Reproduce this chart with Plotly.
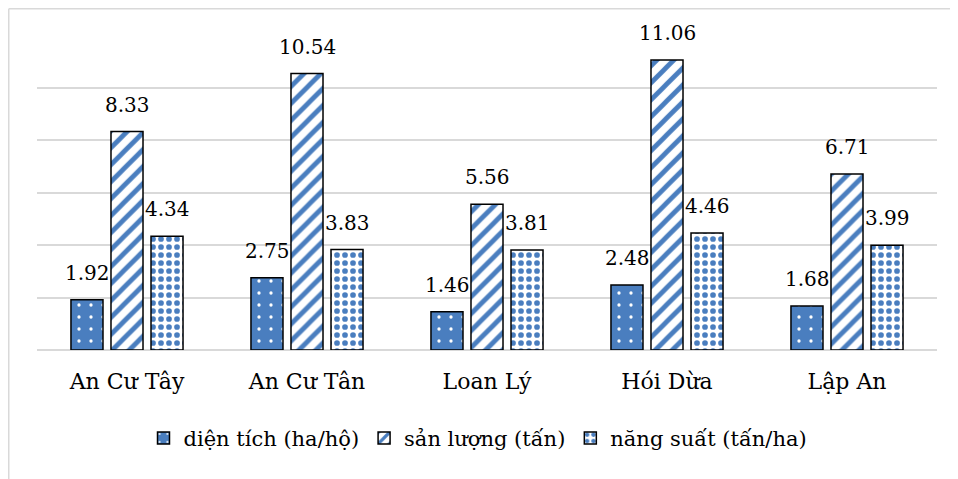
import plotly.graph_objects as go

categories = ["An Cư Tây", "An Cư Tân", "Loan Lý", "Hói Dừa", "Lập An"]
dien_tich = [1.92, 2.75, 1.46, 2.48, 1.68]
san_luong = [8.33, 10.54, 5.56, 11.06, 6.71]
nang_suat = [4.34, 3.83, 3.81, 4.46, 3.99]
series_names = ["diện tích (ha/hộ)", "sản lượng (tấn)", "năng suất (tấn/ha)"]

BLUE = "#4a7ebf"
FONT = "DejaVu Serif"

fig = go.Figure()
fig.add_trace(go.Bar(
    x=categories, y=dien_tich, name=series_names[0],
    marker=dict(color=BLUE, line=dict(color="black", width=1.5),
                pattern=dict(shape=".", fillmode="replace", bgcolor=BLUE,
                             fgcolor="white", size=12, solidity=0.06)),
))
fig.add_trace(go.Bar(
    x=categories, y=san_luong, name=series_names[1],
    marker=dict(color="white", line=dict(color="black", width=1.5),
                pattern=dict(shape="/", fillmode="replace", bgcolor="white",
                             fgcolor=BLUE, size=12, solidity=0.4)),
))
fig.add_trace(go.Bar(
    x=categories, y=nang_suat, name=series_names[2],
    marker=dict(color="white", line=dict(color="black", width=1.5),
                pattern=dict(shape=".", fillmode="replace", bgcolor="white",
                             fgcolor=BLUE, size=8, solidity=0.4)),
))

# data labels above each bar of each group
annotations = []
for si, vals in enumerate([dien_tich, san_luong, nang_suat]):
    for cat, v in zip(categories, vals):
        annotations.append(dict(
            x=cat, y=v, xref="x", yref="y", text=f"{v:.2f}",
            showarrow=False, xanchor="center", yanchor="bottom",
            xshift=(si - 1) * 40, yshift=13,
            font=dict(family=FONT, size=20, color="black"),
        ))

fig.update_layout(
    width=958, height=479,
    margin=dict(l=29, r=29, t=27, b=137),
    paper_bgcolor="white", plot_bgcolor="white",
    barmode="group", bargap=0.333, bargroupgap=0.2,
    font=dict(family=FONT, size=21, color="black"),
    xaxis=dict(showgrid=False, showline=False, ticks="",
               ticklabelstandoff=16,
               tickfont=dict(family=FONT, size=22, color="black")),
    yaxis=dict(range=[0, 12.01], dtick=2, showticklabels=False,
               showgrid=True, gridcolor="#d9d9d9", gridwidth=1.5,
               zeroline=True, zerolinecolor="#d9d9d9", zerolinewidth=1.5,
               showline=False),
    legend=dict(orientation="h", x=0.49, xanchor="center", y=-0.215,
                yanchor="top", font=dict(family=FONT, size=21, color="black"),
                itemwidth=30, traceorder="normal"),
    showlegend=True,
    annotations=annotations,
    shapes=[
        dict(type="line", xref="paper", yref="paper", x0=-0.0314, x1=1.2,
             y0=1.0833, y1=1.0833, line=dict(color="#d9d9d9", width=1.5)),
        dict(type="line", xref="paper", yref="paper", x0=-0.0314, x1=-0.0314,
             y0=1.0833, y1=-0.6, line=dict(color="#d9d9d9", width=1.5)),
    ],
)

fig.write_html("out.html")
